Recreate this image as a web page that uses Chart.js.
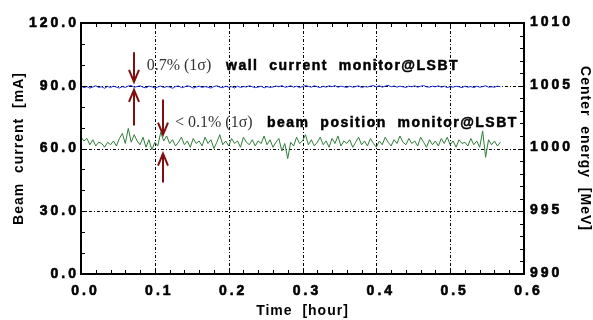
<!DOCTYPE html>
<html>
<head>
<meta charset="utf-8">
<script src="https://cdn.jsdelivr.net/npm/chart.js@4.4.1/dist/chart.umd.min.js"></script>
<style>
  body { margin: 0; background: #fff; }
  #wrap { width: 593px; height: 320px; }
</style>
</head>
<body>
<div id="wrap"><canvas id="myChart"></canvas></div>
<script>
// time stamps [hour]
const times = [
  0.000,0.004,0.008,0.012,0.016,0.020,0.024,0.028,0.032,0.036,
  0.040,0.044,0.048,0.052,0.056,0.060,0.064,0.068,0.072,0.076,
  0.080,0.084,0.088,0.092,0.096,0.100,0.104,0.108,0.112,0.116,
  0.120,0.124,0.128,0.132,0.136,0.140,0.144,0.148,0.152,0.156,
  0.160,0.164,0.168,0.172,0.176,0.180,0.184,0.188,0.192,0.196,
  0.200,0.204,0.208,0.212,0.216,0.220,0.224,0.228,0.232,0.236,
  0.240,0.244,0.248,0.252,0.256,0.260,0.264,0.268,0.272,0.276,
  0.280,0.284,0.288,0.292,0.296,0.300,0.304,0.308,0.312,0.316,
  0.320,0.324,0.328,0.332,0.336,0.340,0.344,0.348,0.352,0.356,
  0.360,0.364,0.368,0.372,0.376,0.380,0.384,0.388,0.392,0.396,
  0.400,0.404,0.408,0.412,0.416,0.420,0.424,0.428,0.432,0.436,
  0.440,0.444,0.448,0.452,0.456,0.460,0.464,0.468,0.472,0.476,
  0.480,0.484,0.488,0.492,0.496,0.500,0.504,0.508,0.512,0.516,
  0.520,0.524,0.528,0.532,0.536,0.540,0.544,0.548,0.552,0.556,
  0.560,0.564,0.568
];

// wall current monitor @ LSBT [mA]
const beamCurrent = [
  89.9,89.1,89.6,88.9,89.4,90.0,89.2,89.5,88.8,89.7,
  89.1,89.8,89.3,88.9,89.6,89.2,89.9,90.1,89.3,89.6,
  90.0,89.3,89.0,89.8,89.5,88.9,89.4,89.9,89.1,89.6,
  89.4,88.8,89.6,89.9,89.1,89.4,90.0,89.6,88.9,89.4,
  89.8,89.2,89.6,89.3,88.9,89.6,90.0,89.3,89.1,89.8,
  89.3,89.6,88.9,89.8,89.2,89.6,89.4,90.0,89.5,89.1,
  89.4,89.8,89.0,89.6,89.2,89.4,89.9,89.5,90.1,89.3,
  89.5,90.0,89.3,89.8,89.1,89.6,90.1,89.7,89.3,90.0,
  89.5,89.1,89.8,89.3,90.0,89.5,90.1,89.3,89.8,89.5,
  89.2,89.8,89.3,89.6,90.0,89.1,89.6,89.4,89.8,90.1,
  89.5,90.0,89.3,89.8,90.2,89.5,89.9,89.3,89.8,89.5,
  89.2,89.8,89.5,90.0,89.3,89.8,90.1,89.5,89.3,89.8,
  89.5,90.0,89.3,89.8,89.1,89.6,89.3,89.8,89.5,89.1,
  89.8,89.3,89.6,89.1,89.8,89.3,89.6,90.0,89.3,89.5,
  89.3,89.8,89.5
];

// beam position monitor @ LSBT, center energy [MeV]
const centerEnergy = [
  1000.9,1000.6,1000.8,1000.3,1000.7,1000.2,1000.5,1000.4,1000.1,1000.5,
  1000.3,1000.6,1000.2,1000.8,1001.2,1000.4,1001.6,1000.5,1001.1,1000.6,
  1000.3,1000.9,1000.1,1000.7,999.9,1000.5,1000.2,1001.3,1000.6,1001.0,
  1000.4,1000.7,1000.2,1000.5,1000.9,1000.3,1000.6,1000.1,1000.8,1000.4,
  1000.6,1000.2,1000.9,1000.4,1000.7,1000.0,1000.5,1001.1,1000.3,1000.6,
  1000.2,1000.8,1000.4,1000.6,1000.1,1000.9,1000.5,1000.3,1000.7,1000.2,
  1000.6,1000.4,1001.0,1000.3,1000.7,1000.1,1000.5,1000.8,999.8,1000.4,
  999.2,1000.5,1000.2,1000.9,1000.4,1000.6,1001.1,1000.3,1000.7,1000.2,
  1000.5,1000.9,1000.3,1000.6,1000.1,1000.8,1000.4,1001.0,1000.2,1000.6,
  1000.4,1000.7,1000.1,1000.5,1000.9,1000.3,1000.6,1000.2,1000.8,1000.4,
  1000.1,1000.6,1000.3,1000.9,1000.5,1000.2,1000.7,1000.4,1001.0,1000.5,
  1000.3,1000.8,1000.4,1000.6,1000.2,1000.9,1000.5,1000.1,1000.7,1000.3,
  1000.6,1000.2,1000.8,1000.4,1000.9,1000.3,1000.6,1000.1,1000.7,1000.4,
  1000.5,1000.2,1000.8,1000.3,1000.6,1000.1,1001.4,999.3,1000.7,1000.3,
  1000.6,1000.2,1000.5
];

// tick labels
const xTicks = [0.0, 0.1, 0.2, 0.3, 0.4, 0.5, 0.6];
const yTicks = [0, 30, 60, 90, 120];
const y2Ticks = [990, 995, 1000, 1005, 1010];

const graph = document.querySelector("#myChart");
const tickFont = 'bold 14px "Liberation Sans", Arial, sans-serif';
const darkRed = "#7f1010";

function arrow(ctx, x, y0, y1) {
  // shaft from y0 to tip y1, open V head
  const dir = y1 > y0 ? 1 : -1;
  ctx.beginPath();
  ctx.moveTo(x, y0);
  ctx.lineTo(x, y1 - dir * 1);
  ctx.moveTo(x - 5, y1 - dir * 12);
  ctx.lineTo(x, y1);
  ctx.lineTo(x + 5, y1 - dir * 12);
  ctx.stroke();
}

// heavier bold text, like the scanned original
function boldText(ctx, s, px, py) {
  ctx.fillText(s, px, py);
  ctx.strokeText(s, px, py);
}

const framePlugin = {
  id: "frame",
  beforeDraw(chart) {
    chart.ctx.letterSpacing = "1px";
  },
  beforeDatasetsDraw(chart) {
    const { ctx, chartArea: a, scales } = chart;
    ctx.save();
    ctx.strokeStyle = "#000";
    ctx.lineWidth = 1;
    ctx.setLineDash([3, 2, 1, 2]);
    ctx.beginPath();
    xTicks.slice(1, -1).forEach((v) => {
      const px = Math.round(scales.x.getPixelForValue(v)) + 0.5;
      ctx.moveTo(px, a.top);
      ctx.lineTo(px, a.bottom);
    });
    yTicks.slice(1, -1).forEach((v) => {
      const py = Math.round(scales.y.getPixelForValue(v)) + 0.5;
      ctx.moveTo(a.left, py);
      ctx.lineTo(a.right, py);
    });
    ctx.stroke();
    ctx.restore();
  },
  afterDatasetsDraw(chart) {
    const { ctx, chartArea: a, scales } = chart;
    const { x, y, y2 } = scales;
    ctx.save();
    ctx.setLineDash([]);
    ctx.strokeStyle = "#000";

    // ticks, inward
    ctx.lineWidth = 1;
    ctx.beginPath();
    for (let v = 0; v <= 0.6001; v += 0.02) {
      const px = Math.round(x.getPixelForValue(v)) + 0.5;
      const major = Math.abs(v * 10 - Math.round(v * 10)) < 1e-6;
      const len = major ? 6 : 4;
      ctx.moveTo(px, a.bottom);
      ctx.lineTo(px, a.bottom - len);
      ctx.moveTo(px, a.top);
      ctx.lineTo(px, a.top + len);
    }
    for (let v = 0; v <= 120; v += 10) {
      const py = Math.round(y.getPixelForValue(v)) + 0.5;
      const len = v % 30 === 0 ? 6 : 4;
      ctx.moveTo(a.left, py);
      ctx.lineTo(a.left + len, py);
    }
    for (let v = 990; v <= 1010; v += 1) {
      const py = Math.round(y2.getPixelForValue(v)) + 0.5;
      const len = v % 5 === 0 ? 6 : 4;
      ctx.moveTo(a.right, py);
      ctx.lineTo(a.right - len, py);
    }
    ctx.stroke();

    // frame
    ctx.lineWidth = 2;
    ctx.strokeRect(a.left, a.top, a.right - a.left, a.bottom - a.top);

    // tick labels
    ctx.fillStyle = "#000";
    ctx.lineWidth = 0.6;
    ctx.font = tickFont;
    ctx.letterSpacing = "3px";
    ctx.textBaseline = "middle";
    ctx.textAlign = "center";
    xTicks.forEach((v) => {
      boldText(ctx, v.toFixed(1), x.getPixelForValue(v) + 4.5, a.bottom + 17);
    });
    ctx.textAlign = "right";
    yTicks.forEach((v) => {
      boldText(ctx, v.toFixed(1), a.left - 2, y.getPixelForValue(v));
    });
    ctx.textAlign = "left";
    y2Ticks.forEach((v) => {
      boldText(ctx, String(v), a.right + 6, y2.getPixelForValue(v) - 1);
    });

    // arrows
    ctx.strokeStyle = darkRed;
    ctx.lineWidth = 2;
    const ax1 = Math.round(x.getPixelForValue(0.072));
    arrow(ctx, ax1, y.getPixelForValue(106), y.getPixelForValue(91.8));
    arrow(ctx, ax1, y.getPixelForValue(71), y.getPixelForValue(88.0));
    const ax2 = Math.round(x.getPixelForValue(0.1115));
    arrow(ctx, ax2, y2.getPixelForValue(1003.9), y2.getPixelForValue(1001.1));
    arrow(ctx, ax2, y2.getPixelForValue(997.3), y2.getPixelForValue(999.6));

    // notes
    ctx.textBaseline = "alphabetic";
    ctx.textAlign = "left";
    ctx.letterSpacing = "0px";
    ctx.fillStyle = "#333";
    ctx.font = '16px "Liberation Serif", "Times New Roman", serif';
    ctx.fillText("0.7% (1σ)", x.getPixelForValue(0.089), y.getPixelForValue(97.5));
    ctx.fillText("< 0.1% (1σ)", x.getPixelForValue(0.1273), y2.getPixelForValue(1001.7));
    ctx.fillStyle = "#000";
    ctx.strokeStyle = "#000";
    ctx.lineWidth = 0.5;
    ctx.font = tickFont;
    ctx.letterSpacing = "1.5px";
    boldText(ctx, "wall  current  monitor@LSBT", x.getPixelForValue(0.1964), y.getPixelForValue(97.5));
    boldText(ctx, "beam  position  monitor@LSBT", x.getPixelForValue(0.2519), y2.getPixelForValue(1001.7));
    ctx.restore();
  },
};

const titleFont = { family: '"Liberation Sans", Arial, sans-serif', size: 14, weight: "bold" };

new Chart(graph, {
  type: "line",
  data: {
    labels: times,
    datasets: [
      {
        label: "wall current monitor@LSBT",
        data: beamCurrent,
        yAxisID: "y",
        borderColor: "#1a2ee0",
        borderWidth: 1,
        pointRadius: 0,
        tension: 0,
      },
      {
        label: "beam position monitor@LSBT",
        data: centerEnergy,
        yAxisID: "y2",
        borderColor: "#2f7d3a",
        borderWidth: 1,
        pointRadius: 0,
        tension: 0,
      },
    ],
  },
  options: {
    responsive: true,
    maintainAspectRatio: false,
    animation: false,
    devicePixelRatio: 1,
    layout: { padding: { top: 23, left: 0, right: 0, bottom: 0 } },
    plugins: { legend: { display: false }, tooltip: { enabled: false } },
    scales: {
      x: {
        type: "linear",
        min: 0,
        max: 0.6,
        ticks: { display: false, stepSize: 0.1 },
        grid: { display: false, drawTicks: false },
        border: { display: false },
        title: { display: true, text: "Time  [hour]", font: titleFont, color: "#000", padding: 0 },
        afterFit: (s) => { s.height = 46; },
      },
      y: {
        position: "left",
        min: 0,
        max: 120,
        ticks: { display: false, stepSize: 30 },
        grid: { display: false, drawTicks: false },
        border: { display: false },
        title: { display: true, text: "Beam  current  [mA]", font: titleFont, color: "#000", padding: { top: 11, bottom: 0 } },
        afterFit: (s) => { s.width = 81; },
      },
      y2: {
        position: "right",
        min: 990,
        max: 1010,
        ticks: { display: false, stepSize: 5 },
        grid: { display: false, drawTicks: false },
        border: { display: false },
        title: { display: true, text: "Center  energy  [MeV]", font: titleFont, color: "#000", padding: { top: 0, bottom: 0 } },
        afterFit: (s) => { s.width = 69; },
      },
    },
  },
  plugins: [framePlugin],
});
</script>
</body>
</html>
